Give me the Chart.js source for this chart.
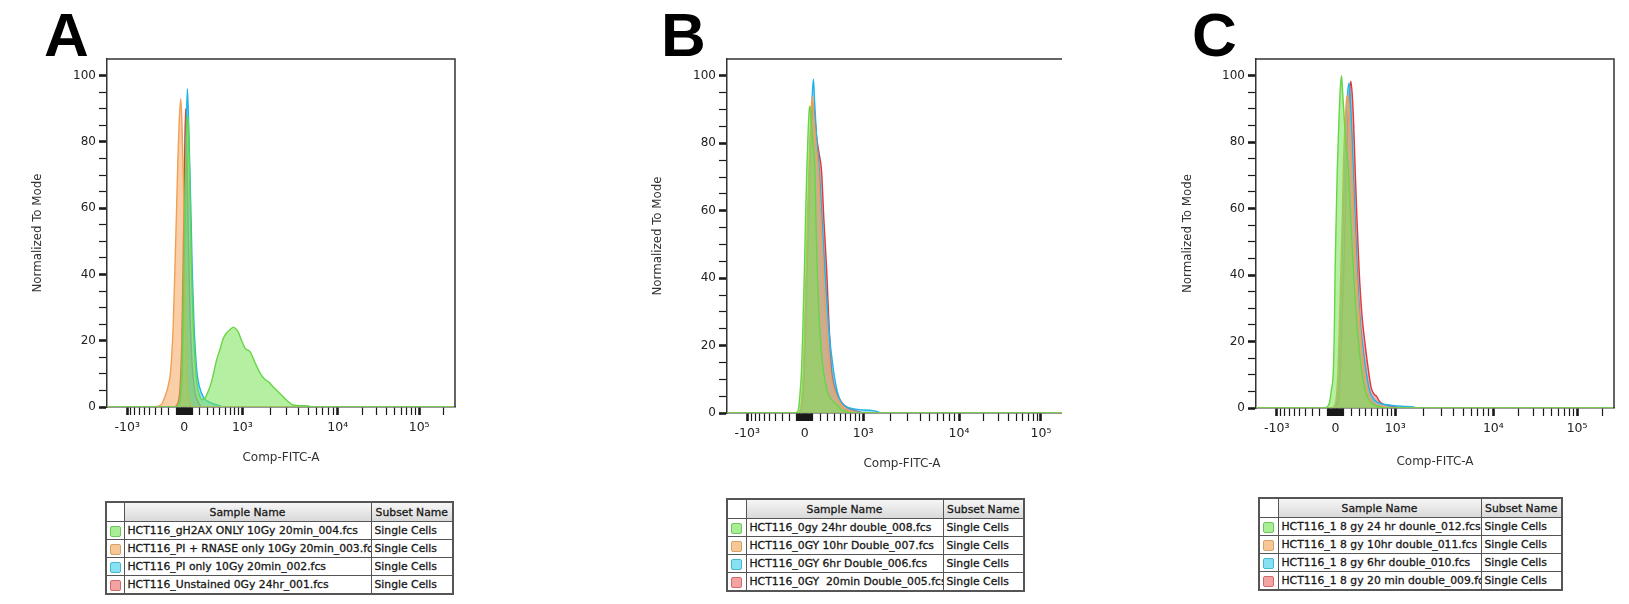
<!DOCTYPE html>
<html>
<head>
<meta charset="utf-8">
<script src="https://cdn.jsdelivr.net/npm/chart.js@4.4.1/dist/chart.umd.min.js"></script>
<style>
  body { margin: 0; background: #fff; width: 1629px; height: 604px; position: relative; overflow: hidden; font-family: "DejaVu Sans", sans-serif; }
  .panel { position: absolute; top: 0; height: 480px; overflow: hidden; }
  .letter { position: absolute; top: 4px; font-family: "Liberation Sans", Arial, sans-serif; font-weight: bold; font-size: 62px; line-height: 62px; color: #000; }
  table.leg { position: absolute; border-collapse: collapse; table-layout: fixed; border: 2px solid #555; font-size: 10.8px; color: #111; -webkit-text-stroke: 0.3px #222; }
  table.leg td, table.leg th { border: 1px solid #555; padding: 0 3px; white-space: pre; overflow: hidden; height: 17px; line-height: 17px; text-align: left; }
  table.leg th { font-weight: normal; text-align: center; height: 18px; background: linear-gradient(#f6f6f6, #d9d9d9); }
  table.leg th.blank { background: #fff; }
  table.leg td.sw { padding: 0; text-align: center; }
  .swatch { display: inline-block; width: 11px; height: 11px; border: 1px solid; border-radius: 2px; vertical-align: middle; box-sizing: border-box; -webkit-text-stroke: 0; }
</style>
</head>
<body>
<div class="letter" style="left:44px">A</div>
<div class="letter" style="left:661px">B</div>
<div class="letter" style="left:1192px">C</div>

<div class="panel" style="left:0;width:470px"><canvas id="cA" width="470" height="480"></canvas></div>
<div class="panel" style="left:620px;width:442px"><canvas id="cB" width="470" height="480"></canvas></div>
<div class="panel" style="left:1150px;width:479px"><canvas id="cC" width="479" height="480"></canvas></div>

<table class="leg" id="tA" style="left:105px;top:501px;width:347px"></table>
<table class="leg" id="tB" style="left:726px;top:498px;width:297px"></table>
<table class="leg" id="tC" style="left:1258px;top:497px;width:303px"></table>

<script>
// x tick labels (raw Comp-FITC-A values) and where the biexponential display puts them (0-1000 channels)
const X_TICK_VALUES = [-1000, 0, 1000, 10000, 100000];
const X_TICK_LABELS = ['-10³', '0', '10³', '10⁴', '10⁵'];
const X_TICK_CHANNELS = [58, 222, 389, 663, 897];
const X_MINOR_VALUES = [
  -900, -800, -700, -600, -500, -400, -300, -200, -100,
  -90, -80, -70, -60, -50, -40, -30, -20, -10,
  10, 20, 30, 40, 50, 60, 70, 80, 90,
  100, 200, 300, 400, 500, 600, 700, 800, 900,
  2000, 3000, 4000, 5000, 6000, 7000, 8000, 9000,
  20000, 30000, 40000, 50000, 60000, 70000, 80000, 90000, 200000
];
const Y_TICK_VALUES = [0, 20, 40, 60, 80, 100];
const Y_MINOR_VALUES = [5, 10, 15, 25, 30, 35, 45, 50, 55, 65, 70, 75, 85, 90, 95];

// histograms: [channel, % of mode]
const A_GREEN = [[0,0],[195,0],[207,1],[212,5],[215,11],[218,25],[221,41],[226,72],[229,84],[232,88],[234,84],[237,72],[240,56],[243,41],[248,24],[255,11],[260,6],[266,3.5],[272,2.2],[280,2.5],[290,4.5],[300,7.5],[308,11],[315,14.2],[325,17.5],[334,20.7],[345,22.5],[355,23.5],[363,24.1],[370,23.6],[377,22.7],[387,20],[397,17.7],[404,17.2],[411,16.7],[425,13.5],[440,10.2],[452,8.5],[464,7.6],[480,5.8],[497,4.1],[515,2.2],[535,0.6],[560,0.4],[578,0.3],[590,0],[1000,0]];
const A_ORANGE = [[0,0],[130,0],[150,0.3],[158,1],[166,3],[175,6],[183,11],[190,24],[195,41],[200,60],[203,72],[207,85],[212,93],[215,87],[219,71],[222,55],[224,41],[227,22],[229,11],[233,4],[238,1],[245,0.2],[260,0],[1000,0]];
const A_CYAN = [[0,0],[195,0],[205,0.5],[210,1.5],[214,5],[217,11],[220,25],[222,41],[226,72],[229,90],[231,96],[234,88],[238,72],[242,55],[245,41],[250,25],[258,11],[266,6],[277,3],[300,1.2],[320,0.5],[335,0],[1000,0]];
const A_RED = [[0,0],[190,0],[203,1],[210,6],[215,20],[219,45],[223,75],[226,90],[229,80],[233,55],[238,30],[244,14],[252,5],[262,1.5],[275,0],[1000,0]];

const B_GREEN = [[0,0],[190,0],[200,0.3],[204,1],[208,5],[213,12.8],[217,26],[221,42],[225,60],[228,72],[232,84],[235,90],[237,91],[240,88],[245,81],[251,72],[254,58],[258,42],[265,25],[275,12.8],[288,6],[300,3.8],[313,2.5],[325,1.2],[340,0.5],[355,0],[1000,0]];
const B_ORANGE = [[0,0],[200,0],[210,1],[214,5],[218,12],[222,26],[226,42],[230,58],[234,72],[238,84],[241,91],[244,94],[248,88],[254,80],[261,72],[268,57],[275,42],[284,25],[294,12.8],[305,7],[323,3],[340,1],[360,0.3],[370,0],[1000,0]];
const B_CYAN = [[0,0],[202,0],[211,1],[216,5],[220,12],[224,26],[228,42],[232,58],[236,72],[240,85],[244,95],[247,99],[250,93],[256,82],[264,72],[272,57],[280,42],[291,25],[304,12.8],[316,6],[328,3],[350,1.5],[380,1],[410,0.8],[428,0.5],[440,0],[1000,0]];
const B_RED = [[0,0],[203,0],[212,1],[217,5],[221,12],[225,26],[229,42],[233,58],[237,72],[241,85],[245,92],[249,90],[256,82],[263,77],[270,72],[277,57],[285,42],[292,25],[299,12.8],[310,7],[325,3.5],[345,1.5],[365,0.8],[380,0.3],[390,0],[1000,0]];

const C_GREEN = [[0,0],[190,0],[200,0.5],[205,1.5],[210,5],[216,11.4],[219,25],[221,41.6],[224,57],[227,71.7],[232,88],[236,97],[239,100],[242,95],[246,88],[251,80],[258,71.7],[265,56],[272,41.6],[282,25],[295,11.4],[306,5],[318,2],[330,1],[345,0.4],[355,0],[1000,0]];
const C_ORANGE = [[0,0],[212,0],[222,1.5],[229,11],[233,25],[237,41],[241,57],[244,72],[249,86],[253,93],[256,94],[260,88],[264,80],[268,71.7],[274,56],[280,41.6],[290,25],[302,11.4],[312,5],[323,2],[340,0.8],[360,0.3],[370,0],[1000,0]];
const C_CYAN = [[0,0],[215,0],[225,1.5],[232,11],[236,25],[240,41],[244,57],[247,72],[252,88],[256,95],[260,97.8],[264,92],[268,83],[272,71.7],[277,57],[283,41.6],[290,28],[298,19],[307,11.4],[318,5],[330,2.5],[350,1.3],[380,0.8],[410,0.5],[439,0.3],[450,0],[1000,0]];
const C_RED = [[0,0],[220,0],[229,1.5],[236,11],[240,25],[245,41],[249,57],[252,72],[257,88],[261,95],[265,98.3],[269,94],[273,85],[277,71.7],[282,57],[288,41.6],[296,28],[305,19],[314,11.4],[322,6],[330,4.2],[337,3.5],[345,2],[360,1],[375,0.6],[393,0.3],[405,0],[1000,0]];

const A_NAMES = ['HCT116_gH2AX ONLY 10Gy 20min_004.fcs', 'HCT116_PI + RNASE only 10Gy 20min_003.fcs', 'HCT116_PI only 10Gy 20min_002.fcs', 'HCT116_Unstained 0Gy 24hr_001.fcs'];
const B_NAMES = ['HCT116_0gy 24hr double_008.fcs', 'HCT116_0GY 10hr Double_007.fcs', 'HCT116_0GY 6hr Double_006.fcs', 'HCT116_0GY  20min Double_005.fcs'];
const C_NAMES = ['HCT116_1 8 gy 24 hr dounle_012.fcs', 'HCT116_1 8 gy 10hr double_011.fcs', 'HCT116_1 8 gy 6hr double_010.fcs', 'HCT116_1 8 gy 20 min double_009.fcs'];
const SUBSET = 'Single Cells';

const LINE_COLORS = ['#66d646', '#f0a055', '#22b4e6', '#e23a3a'];
const FILL_COLORS = ['rgba(118,226,86,0.55)', 'rgba(245,165,95,0.55)', 'rgba(70,195,235,0.5)', 'rgba(232,90,90,0.5)'];
const SWATCH_FILL = ['#a8ee94', '#f8c796', '#86e2f2', '#f4a3a3'];
const SWATCH_LINE = ['#6cc85a', '#d8a06a', '#44b8d0', '#d06a6a'];

// biexponential display: asinh scale pinned to the labelled decades
function toChannel(v) {
  const us = X_TICK_VALUES.map(a => Math.asinh(a / 500));
  const u = Math.asinh(v / 500);
  let i = 0;
  while (i < us.length - 2 && u > us[i + 1]) i++;
  const t = (u - us[i]) / (us[i + 1] - us[i]);
  return X_TICK_CHANNELS[i] + t * (X_TICK_CHANNELS[i + 1] - X_TICK_CHANNELS[i]);
}

const xTicks = X_TICK_VALUES.map((v, i) => ({ value: toChannel(v), label: X_TICK_LABELS[i], major: true }))
  .concat(X_MINOR_VALUES.map(v => ({ value: toChannel(v), label: '', major: false })));
const yTicks = Y_TICK_VALUES.map(v => ({ value: v, label: String(v), major: true }))
  .concat(Y_MINOR_VALUES.map(v => ({ value: v, label: '', major: false })));

Chart.defaults.font.family = '"DejaVu Sans", sans-serif';
Chart.defaults.color = '#222';

const boxPlugin = {
  id: 'box',
  afterDatasetsDraw(chart) {
    const { ctx, chartArea: a } = chart;
    ctx.save();
    ctx.strokeStyle = '#333';
    ctx.lineWidth = 1.5;
    ctx.beginPath();
    ctx.moveTo(a.left, a.top);
    ctx.lineTo(a.right, a.top);
    ctx.lineTo(a.right, a.bottom);
    ctx.stroke();
    ctx.restore();
  }
};

function tickWidth(list) {
  return ctx => (ctx.tick && list[ctx.index] && list[ctx.index].major) ? 2.6 : 1.2;
}

function drawPanel(id, series, names, dims) {
  new Chart(document.getElementById(id), {
    type: 'line',
    data: {
      datasets: series.map((pts, i) => ({
        label: names[i],
        data: pts.map(p => ({ x: p[0], y: p[1] })),
        borderColor: LINE_COLORS[i],
        backgroundColor: FILL_COLORS[i],
        borderWidth: 1.4,
        fill: 'origin',
        pointRadius: 0,
        cubicInterpolationMode: 'monotone'
      }))
    },
    options: {
      responsive: false,
      animation: false,
      devicePixelRatio: 1,
      layout: { padding: { top: 59, right: dims.right, left: 0, bottom: 0 } },
      plugins: { legend: { display: false }, tooltip: { enabled: false } },
      scales: {
        x: {
          type: 'linear', min: 0, max: 1000,
          afterBuildTicks: s => { s.ticks = xTicks.map(t => ({ value: t.value })); },
          afterFit: s => { s.height = dims.xh; },
          ticks: { autoSkip: false, maxRotation: 0, minRotation: 0, padding: 5, font: { size: 12.5 }, color: '#222',
                   callback: (v, i) => xTicks[i].label },
          grid: { drawOnChartArea: false, drawTicks: true, tickLength: 8, tickColor: '#1a1a1a', tickWidth: tickWidth(xTicks) },
          border: { color: '#333', width: 1.5 },
          title: { display: true, text: 'Comp-FITC-A', font: { size: 12 }, color: '#333', padding: { top: 0, bottom: dims.xpad } }
        },
        y: {
          type: 'linear', min: 0, max: 105,
          afterBuildTicks: s => { s.ticks = yTicks.map(t => ({ value: t.value })); },
          afterFit: s => { s.width = dims.yw; },
          ticks: { autoSkip: false, padding: 3, font: { size: 12 }, color: '#222',
                   callback: (v, i) => yTicks[i].label },
          grid: { drawOnChartArea: false, drawTicks: true, tickLength: 8, tickColor: '#1a1a1a', tickWidth: tickWidth(yTicks) },
          border: { color: '#333', width: 1.5 },
          title: { display: true, text: 'Normalized To Mode', font: { size: 11.8 }, color: '#333', padding: { top: 31, bottom: 0 } }
        }
      }
    },
    plugins: [boxPlugin]
  });
}

drawPanel('cA', [A_GREEN, A_ORANGE, A_CYAN, A_RED], A_NAMES, { right: 15, yw: 107, xh: 73, xpad: 15 });
drawPanel('cB', [B_GREEN, B_ORANGE, B_CYAN, B_RED], B_NAMES, { right: 13, yw: 107, xh: 67, xpad: 9 });
drawPanel('cC', [C_GREEN, C_ORANGE, C_CYAN, C_RED], C_NAMES, { right: 15, yw: 106, xh: 72, xpad: 11 });

function buildTable(id, names, cols) {
  const t = document.getElementById(id);
  let html = '<colgroup>' + cols.map(w => '<col style="width:' + w + 'px">').join('') + '</colgroup>';
  html += '<tr><th class="blank"></th><th>Sample Name</th><th>Subset Name</th></tr>';
  names.forEach((n, i) => {
    html += '<tr><td class="sw"><span class="swatch" style="background:' + SWATCH_FILL[i] + ';border-color:' + SWATCH_LINE[i] + '"></span></td>' +
            '<td>' + n + '</td><td>' + SUBSET + '</td></tr>';
  });
  t.innerHTML = html;
}
buildTable('tA', A_NAMES, [18, 247, 82]);
buildTable('tB', B_NAMES, [19, 197, 81]);
buildTable('tC', C_NAMES, [19, 203, 81]);
</script>
</body>
</html>
